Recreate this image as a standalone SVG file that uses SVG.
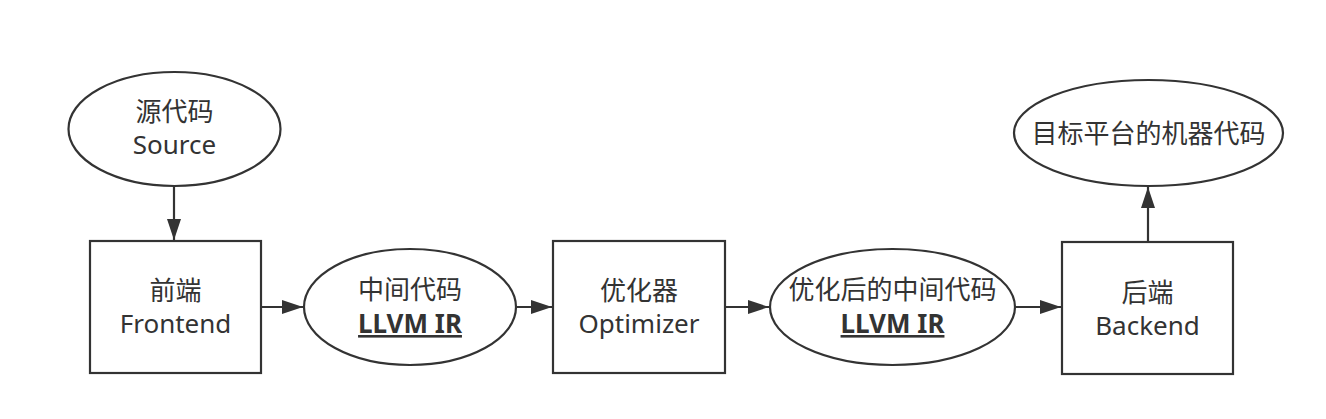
<svg xmlns="http://www.w3.org/2000/svg" width="1326" height="419" viewBox="0 0 1326 419">
<defs>
<style>
.shape{fill:#ffffff;stroke:#333333;stroke-width:2.2}
.conn{fill:none;stroke:#333333;stroke-width:2.2}
text{font-family:"Noto Sans","Noto Sans CJK SC",sans-serif;font-size:26px;fill:#333333;text-anchor:middle}
.ir{font-weight:bold;text-decoration:underline}
</style>
<marker id="arrow" markerUnits="userSpaceOnUse" markerWidth="21" markerHeight="14" refX="21" refY="7" orient="auto">
<path d="M0,0 L21,7 L0,14 z" fill="#333333"/>
</marker>
</defs>
<rect width="1326" height="419" fill="#ffffff"/>
<g id="connectors">
<line class="conn" x1="174" y1="186" x2="174" y2="240" marker-end="url(#arrow)"/>
<line class="conn" x1="261" y1="307" x2="303" y2="307" marker-end="url(#arrow)"/>
<line class="conn" x1="516" y1="307" x2="552" y2="307" marker-end="url(#arrow)"/>
<line class="conn" x1="725" y1="307" x2="769" y2="307" marker-end="url(#arrow)"/>
<line class="conn" x1="1015" y1="307" x2="1061" y2="307" marker-end="url(#arrow)"/>
<line class="conn" x1="1148" y1="241" x2="1148" y2="187" marker-end="url(#arrow)"/>
</g>
<g id="source">
<ellipse class="shape" cx="174.5" cy="129" rx="106" ry="57"/>
<text x="174.5" y="121">源代码</text>
<text x="174.5" y="154">Source</text>
</g>
<g id="frontend">
<rect class="shape" x="90" y="241" width="171" height="132"/>
<text x="175.5" y="300">前端</text>
<text x="175.5" y="333">Frontend</text>
</g>
<g id="ir">
<ellipse class="shape" cx="410" cy="307" rx="106" ry="58"/>
<text x="410" y="299">中间代码</text>
<text class="ir" x="410" y="333">LLVM IR</text>
</g>
<g id="optimizer">
<rect class="shape" x="553" y="241" width="172" height="132"/>
<text x="639" y="300">优化器</text>
<text x="639" y="333">Optimizer</text>
</g>
<g id="optimized-ir">
<ellipse class="shape" cx="892.5" cy="307" rx="122.5" ry="58"/>
<text x="892.5" y="299">优化后的中间代码</text>
<text class="ir" x="892.5" y="333">LLVM IR</text>
</g>
<g id="backend">
<rect class="shape" x="1062" y="242" width="171" height="132"/>
<text x="1147.5" y="302">后端</text>
<text x="1147.5" y="335">Backend</text>
</g>
<g id="target">
<ellipse class="shape" cx="1148.5" cy="133" rx="134.5" ry="53"/>
<text x="1148.5" y="143">目标平台的机器代码</text>
</g>
</svg>
